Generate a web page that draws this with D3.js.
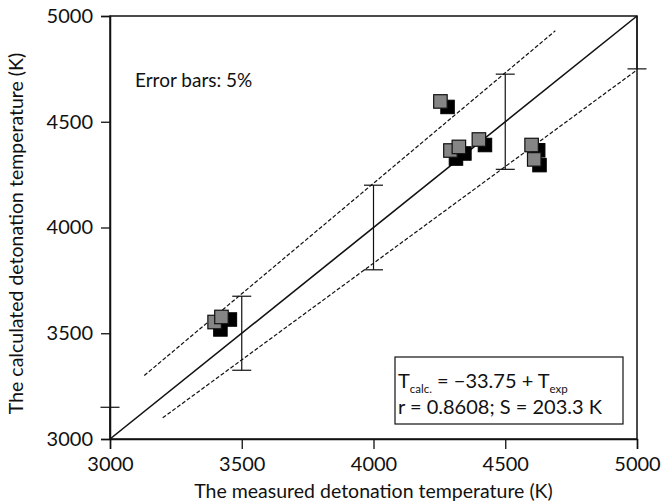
<!DOCTYPE html>
<html><head><meta charset="utf-8">
<script src="https://cdn.jsdelivr.net/npm/d3@7"></script>
<style>
html,body{margin:0;padding:0;background:#fff;}
svg text{font-family:Lato,"Open Sans",sans-serif;fill:#111;}
</style></head>
<body><svg id="c" width="662" height="503"></svg>
<script>
// data
const xTicks = [3000, 3500, 4000, 4500, 5000];
const yTicks = [3000, 3500, 4000, 4500, 5000];
// gray series (measured, calculated)
const grayX = [3397, 3423, 4254, 4292, 4324, 4400, 4600, 4610];
const grayY = [3553, 3577, 4596, 4364, 4381, 4416, 4390, 4322];
// black series
const blackX = [3419, 3455, 4281, 4313, 4345, 4423, 4625, 4630];
const blackY = [3518, 3565, 4570, 4326, 4350, 4390, 4365, 4295];
// error bars (5%)
const errX = [3000, 3500, 4000, 4500, 5000];
const errPct = 0.05;
// guide lines
const diag = [[3000, 3000], [5000, 5000]];
const upperLine = [[3130, 3300], [4690, 4930]];
const lowerLine = [[3200, 3100], [5000, 4745]];

const svg = d3.select("#c");
const L = 110, R = 637, T = 16, B = 439;
const x = d3.scaleLinear().domain([3000, 5000]).range([L, R]);
const y = d3.scaleLinear().domain([3000, 5000]).range([B, T]);

// frame
svg.append("rect").attr("x", L).attr("y", T).attr("width", R - L).attr("height", B - T)
  .attr("fill", "none").attr("stroke", "#111").attr("stroke-width", 1.5);

const xAxis = svg.append("g").attr("transform", `translate(0,${B})`)
  .call(d3.axisBottom(x).tickValues(xTicks).tickFormat(d3.format("d")).tickSize(10).tickPadding(5));
const yAxis = svg.append("g").attr("transform", `translate(${L},0)`)
  .call(d3.axisLeft(y).tickValues(yTicks).tickFormat(d3.format("d")).tickSize(9).tickPadding(8));
[xAxis, yAxis].forEach(g => {
  g.select(".domain").attr("stroke", "#111").attr("stroke-width", 1.5);
  g.selectAll(".tick line").attr("stroke", "#111").attr("stroke-width", 1.3);
  g.selectAll(".tick text").attr("font-size", 20).attr("fill", "#111")
    .style("font-family", "Lato, 'Open Sans', sans-serif");
});
xAxis.selectAll(".tick text").attr("dy", "0.85em");

const line = d3.line().x(d => x(d[0])).y(d => y(d[1]));
svg.append("path").attr("d", line(diag)).attr("fill", "none").attr("stroke", "#111").attr("stroke-width", 1.6);
[upperLine, lowerLine].forEach(l => svg.append("path").attr("d", line(l)).attr("fill", "none")
  .attr("stroke", "#111").attr("stroke-width", 1.2).attr("stroke-dasharray", "4,2"));

// error bars
const cap = 9.5;
errX.forEach(v => {
  const lo = v * (1 - errPct), hi = v * (1 + errPct);
  const clo = Math.max(lo, 3000), chi = Math.min(hi, 5000);
  svg.append("line").attr("x1", x(v)).attr("x2", x(v)).attr("y1", y(clo)).attr("y2", y(chi))
    .attr("stroke", "#111").attr("stroke-width", 1.2);
  [lo, hi].filter(e => e >= 3000 && e <= 5000).forEach(e =>
    svg.append("line").attr("x1", x(v) - cap).attr("x2", x(v) + cap).attr("y1", y(e)).attr("y2", y(e))
      .attr("stroke", "#111").attr("stroke-width", 1.2));
});

// markers
const S = 13.5;
svg.append("g").selectAll("rect").data(d3.range(blackX.length)).join("rect")
  .attr("x", i => x(blackX[i]) - S / 2).attr("y", i => y(blackY[i]) - S / 2)
  .attr("width", S).attr("height", S).attr("fill", "#000").attr("stroke", "#000").attr("stroke-width", 1);
svg.append("g").selectAll("rect").data(d3.range(grayX.length)).join("rect")
  .attr("x", i => x(grayX[i]) - S / 2).attr("y", i => y(grayY[i]) - S / 2)
  .attr("width", S).attr("height", S).attr("fill", "#858585").attr("stroke", "#111").attr("stroke-width", 1.2);

// annotations
svg.append("text").attr("x", 135).attr("y", 87).attr("font-size", 19).text("Error bars: 5%");

svg.append("rect").attr("x", 395).attr("y", 357).attr("width", 228).attr("height", 67)
  .attr("fill", "#fff").attr("stroke", "#111").attr("stroke-width", 1.2);
const t1 = svg.append("text").attr("x", 398).attr("y", 388).attr("font-size", 20);
t1.append("tspan").text("T");
t1.append("tspan").attr("font-size", 11.5).attr("dy", 5).text("calc.");
t1.append("tspan").attr("dy", -5).text(" = −33.75 + T");
t1.append("tspan").attr("font-size", 11.5).attr("dy", 5).text("exp");
svg.append("text").attr("x", 398).attr("y", 414).attr("font-size", 20).text("r = 0.8608; S = 203.3 K");

svg.append("text").attr("x", (L + R) / 2).attr("y", 498).attr("text-anchor", "middle")
  .attr("font-size", 19.5).text("The measured detonation temperature (K)");
svg.append("text").attr("transform", `translate(23,${(T + B) / 2 + 6}) rotate(-90)`).attr("text-anchor", "middle")
  .attr("font-size", 19.5).text("The calculated detonation temperature (K)");
</script></body></html>
